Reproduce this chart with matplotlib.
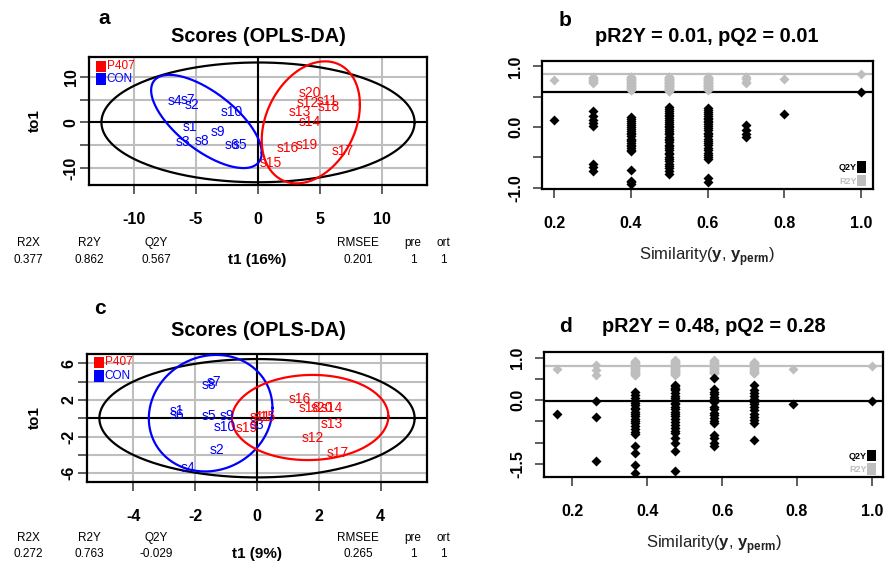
import matplotlib
matplotlib.use("Agg")
import matplotlib.pyplot as plt
import numpy as np
from matplotlib.patches import Rectangle

plt.rcParams["font.family"] = ["Liberation Sans", "DejaVu Sans"]
plt.rcParams["mathtext.fontset"] = "custom"
plt.rcParams["mathtext.rm"] = "Liberation Sans"
plt.rcParams["mathtext.bf"] = "Liberation Sans:bold"
plt.rcParams["axes.unicode_minus"] = False

W, H = 885, 562
GREY = "#BEBEBE"

# ---------------- panel a: OPLS-DA scores (model 1) ----------------
a_con_labels = ["s1", "s2", "s3", "s4", "s5", "s6", "s7", "s8", "s9", "s10"]
a_con_t1 = [-5.5, -5.3, -6.0, -6.7, -1.45, -2.1, -5.6, -4.5, -3.2, -2.1]
a_con_to1 = [-1.1, 3.9, -4.2, 4.65, -4.95, -4.95, 4.9, -4.1, -2.0, 2.3]
a_p407_labels = ["s11", "s12", "s13", "s14", "s15", "s16", "s17", "s18", "s19", "s20"]
a_p407_t1 = [5.6, 4.0, 3.4, 4.2, 1.0, 2.4, 6.8, 5.7, 3.9, 4.2]
a_p407_to1 = [4.65, 4.15, 2.3, 0.1, -8.8, -5.7, -6.3, 3.4, -4.95, 6.5]
# ellipses: centre (t1, to1), half range (t1, to1), correlation
a_ell_center = {"all": (0.0, 0.0), "CON": (-4.15, 0.2), "P407": (4.25, 0.0)}
a_ell_half = {"all": (12.6, 13.1), "CON": (4.45, 10.2), "P407": (3.95, 13.35)}
a_ell_rho = {"all": 0.0, "CON": -0.67, "P407": 0.29}
a_summary = ["0.377", "0.862", "0.567", "0.201", "1", "1"]
a_xlabel = "t1 (16%)"

# ---------------- panel c: OPLS-DA scores (model 2) ----------------
c_con_labels = ["s1", "s2", "s3", "s4", "s5", "s6", "s7", "s8", "s9", "s10"]
c_con_t1 = [-2.58, -1.3, 0.0, -2.22, -1.55, -2.58, -1.4, -1.55, -0.98, -1.04]
c_con_to1 = [0.75, -3.46, -0.75, -5.39, 0.25, 0.3, 4.0, 3.6, 0.25, -0.98]
c_p407_labels = ["s11", "s12", "s13", "s14", "s15", "s16", "s17", "s18", "s19", "s20"]
c_p407_t1 = [0.12, 1.82, 2.42, 2.42, 0.25, 1.37, 2.63, 1.72, -0.33, 2.1]
c_p407_to1 = [0.15, -2.11, -0.65, 1.09, 0.12, 2.07, -3.82, 1.09, -1.05, 1.09]
c_ell_center = {"all": (0.0, 0.0), "CON": (-1.5, 0.55), "P407": (1.72, 0.08)}
c_ell_half = {"all": (5.1, 6.45), "CON": (2.0, 6.35), "P407": (2.53, 4.64)}
c_ell_rho = {"all": 0.0, "CON": 0.09, "P407": 0.03}
c_summary = ["0.272", "0.763", "-0.029", "0.265", "1", "1"]
c_xlabel = "t1 (9%)"

summary_names = ["R2X", "R2Y", "Q2Y", "RMSEE", "pre", "ort"]

# ---------------- panel b: permutation test (model 1) ----------------
b_sim = [0.2, 0.3, 0.4, 0.5, 0.6, 0.7, 0.8]
b_r2y = [
    [0.77],
    [0.82, 0.81, 0.79, 0.78, 0.77, 0.76, 0.74, 0.73],
    [0.83, 0.82, 0.81, 0.8, 0.79, 0.79, 0.78, 0.77, 0.76, 0.75, 0.74, 0.73,
     0.72, 0.71, 0.7, 0.69, 0.68, 0.67, 0.66, 0.65, 0.64, 0.63, 0.62, 0.61],
    [0.83, 0.82, 0.82, 0.81, 0.8, 0.8, 0.79, 0.78, 0.78, 0.77, 0.76, 0.75,
     0.75, 0.74, 0.73, 0.72, 0.72, 0.71, 0.7, 0.69, 0.69, 0.68, 0.67, 0.66,
     0.66, 0.65, 0.64, 0.63, 0.63, 0.62, 0.61, 0.61, 0.6, 0.6],
    [0.83, 0.82, 0.81, 0.81, 0.8, 0.79, 0.78, 0.78, 0.77, 0.76, 0.75, 0.74,
     0.74, 0.73, 0.72, 0.71, 0.7, 0.7, 0.69, 0.68, 0.67, 0.67, 0.66, 0.65,
     0.64, 0.63, 0.63, 0.62],
    [0.83, 0.79, 0.75, 0.72],
    [0.79],
]
b_q2y = [
    [0.11],
    [0.26, 0.19, 0.12, 0.07, 0.02, -0.61, -0.66, -0.73],
    [0.17, 0.13, 0.1, 0.06, 0.03, 0.0, -0.03, -0.07, -0.09, -0.12, -0.15, -0.19,
     -0.21, -0.23, -0.26, -0.29, -0.31, -0.34, -0.37, -0.39, -0.7, -0.88, -0.91, -0.93],
    [0.33, 0.3, 0.27, 0.24, 0.2, 0.18, 0.15, 0.12, 0.08, 0.05, 0.02, 0.0,
     -0.03, -0.07, -0.1, -0.12, -0.16, -0.19, -0.22, -0.25, -0.29, -0.31, -0.35, -0.38,
     -0.42, -0.45, -0.49, -0.52, -0.56, -0.6, -0.64, -0.68, -0.73, -0.77],
    [0.32, 0.28, 0.25, 0.21, 0.18, 0.15, 0.13, 0.1, 0.08, 0.05, 0.02, -0.02,
     -0.05, -0.09, -0.12, -0.15, -0.19, -0.23, -0.26, -0.3, -0.34, -0.38, -0.42, -0.46,
     -0.49, -0.52, -0.84, -0.9],
    [0.03, -0.04, -0.11, -0.16],
    [0.22],
]
b_model = {"R2Y": 0.88, "Q2Y": 0.58}
b_title = "pR2Y = 0.01, pQ2 = 0.01"

# ---------------- panel d: permutation test (model 2) ----------------
d_sim = [0.158, 0.263, 0.368, 0.474, 0.579, 0.684, 0.789]
d_r2y = [
    [0.72],
    [0.82, 0.7, 0.59],
    [0.92, 0.9, 0.88, 0.86, 0.84, 0.83, 0.81, 0.8, 0.78, 0.76, 0.75, 0.73,
     0.72, 0.7, 0.69, 0.67, 0.66, 0.64, 0.63, 0.61, 0.6, 0.59],
    [0.94, 0.92, 0.9, 0.89, 0.87, 0.86, 0.84, 0.83, 0.81, 0.8, 0.78, 0.77,
     0.76, 0.74, 0.73, 0.72, 0.7, 0.69, 0.68, 0.66, 0.65, 0.64, 0.63, 0.62,
     0.61, 0.6],
    [0.94, 0.92, 0.9, 0.88, 0.86, 0.84, 0.82, 0.8, 0.78, 0.76, 0.74, 0.72,
     0.7, 0.69, 0.67, 0.66, 0.64, 0.63],
    [0.9, 0.88, 0.86, 0.84, 0.81, 0.79, 0.77, 0.75, 0.72, 0.7, 0.68, 0.66,
     0.64, 0.63],
    [0.74],
]
d_q2y = [
    [-0.33],
    [-0.02, -0.41, -1.44],
    [0.19, 0.12, 0.05, -0.02, -0.08, -0.12, -0.18, -0.22, -0.28, -0.33, -0.38, -0.45,
     -0.5, -0.55, -0.62, -0.68, -0.74, -0.8, -1.09, -1.25, -1.52, -1.72],
    [0.35, 0.32, 0.29, 0.26, 0.23, 0.16, 0.1, 0.05, 0.0, -0.06, -0.1, -0.16,
     -0.22, -0.27, -0.33, -0.38, -0.45, -0.52, -0.58, -0.65, -0.72, -0.78, -0.9, -1.01,
     -1.21, -1.68],
    [0.51, 0.27, 0.2, 0.14, 0.08, 0.02, -0.04, -0.16, -0.22, -0.3, -0.36, -0.43,
     -0.5, -0.55, -0.82, -0.9, -1.02, -1.09],
    [0.35, 0.23, 0.16, 0.1, 0.03, -0.04, -0.1, -0.16, -0.23, -0.32, -0.41, -0.48,
     -0.55, -0.94],
    [-0.1],
]
d_model = {"R2Y": 0.80, "Q2Y": -0.02}
d_title = "pR2Y = 0.48, pQ2 = 0.28"


def fxy(px, py):
    """Pixel position (from top left) to figure fraction."""
    return px / W, 1 - py / H


def add_axes_px(fig, left, top, right, bottom):
    return fig.add_axes([left / W, 1 - bottom / H, (right - left) / W, (bottom - top) / H])


def ellipse_xy(center, half, rho):
    t = np.linspace(0, 2 * np.pi, 300)
    phi = np.arccos(rho)
    return center[0] + half[0] * np.cos(t), center[1] + half[1] * np.cos(t - phi)


def style_ticks(ax, ylabels_pad):
    ax.tick_params(direction="out", length=6.5, width=1.1, color="#333333",
                   labelsize=11.5, pad=13)
    ax.tick_params(axis="y", pad=ylabels_pad)
    for lbl in ax.get_xticklabels():
        lbl.set_fontweight("bold")
    for lbl in ax.get_yticklabels():
        lbl.set_fontweight("bold")
        lbl.set_rotation(90)
        lbl.set_va("center")
    for sp in ax.spines.values():
        sp.set_linewidth(1.6)


def draw_scores(ax, con, p407, ell, xlim, ylim, xticks, yticks, ylabels):
    ax.set_xlim(*xlim)
    ax.set_ylim(*ylim)
    ax.set_xticks(xticks)
    ax.set_yticks(yticks)
    ax.set_yticklabels(ylabels)
    ax.grid(True, color=GREY, lw=1.5)
    ax.set_axisbelow(True)
    ax.axhline(0, color="black", lw=1.5, zorder=2)
    ax.axvline(0, color="black", lw=1.5, zorder=2)

    centers, halves, rhos = ell
    for key, color in [("all", "black"), ("CON", "blue"), ("P407", "red")]:
        x, y = ellipse_xy(centers[key], halves[key], rhos[key])
        ax.plot(x, y, color=color, lw=1.6, zorder=3)

    for (labels, t1, to1), color in [(con, "blue"), (p407, "red")]:
        for lab, x, y in zip(labels, t1, to1):
            ax.text(x, y, lab, color=color, fontsize=10, ha="center", va="center", zorder=4)

    style_ticks(ax, 1)


def score_legend(ax, y_red, y_blue):
    for y0, color, name in [(y_red, "red", "P407"), (y_blue, "blue", "CON")]:
        ax.add_patch(Rectangle((0.021, y0), 0.03, 0.092, transform=ax.transAxes,
                               color=color, lw=0, zorder=5))
        ax.text(0.052, y0 + 0.046, name, transform=ax.transAxes, color=color,
                fontsize=8.5, ha="left", va="center", zorder=5)


def draw_perm(ax, sims, r2y, q2y, model, xlim, ylim, yticks, ylabels):
    ax.axhline(model["R2Y"], color=GREY, lw=1.6, zorder=1)
    ax.axhline(model["Q2Y"], color="black", lw=1.6, zorder=1)
    for s, vals in zip(sims, r2y):
        ax.plot([s] * len(vals), vals, "D", color=GREY, ms=5, mec="none", zorder=2)
    for s, vals in zip(sims, q2y):
        ax.plot([s] * len(vals), vals, "D", color="black", ms=5, mec="none", zorder=3)
    ax.plot([1.0], [model["R2Y"]], "D", color=GREY, ms=5, mec="none", zorder=2)
    ax.plot([1.0], [model["Q2Y"]], "D", color="black", ms=5, mec="none", zorder=3)
    ax.set_xlim(*xlim)
    ax.set_ylim(*ylim)
    ax.set_xticks([0.2, 0.4, 0.6, 0.8, 1.0])
    ax.set_xticklabels(["0.2", "0.4", "0.6", "0.8", "1.0"])
    ax.set_yticks(yticks)
    ax.set_yticklabels(ylabels)
    style_ticks(ax, 7)
    # Q2Y / R2Y key
    for y0, color, name in [(0.125, "black", "Q2Y"), (0.02, GREY, "R2Y")]:
        ax.add_patch(Rectangle((0.953, y0), 0.027, 0.09, transform=ax.transAxes,
                               color=color, lw=0, zorder=5))
        ax.text(0.952, y0 + 0.04, name, transform=ax.transAxes, color=color,
                fontsize=6.5, fontweight="bold", ha="right", va="center", zorder=5)


fig = plt.figure(figsize=(W / 100, H / 100), dpi=100)

ax_a = add_axes_px(fig, 89, 57, 427, 185)
draw_scores(ax_a, (a_con_labels, a_con_t1, a_con_to1), (a_p407_labels, a_p407_t1, a_p407_to1),
            (a_ell_center, a_ell_half, a_ell_rho), (-13.6, 13.6), (-13.7, 14.3),
            [-10, -5, 0, 5, 10], [-10, -5, 0, 5, 10], ["-10", "", "0", "", "10"])
score_legend(ax_a, 0.88, 0.78)

ax_c = add_axes_px(fig, 87, 354, 427, 482)
draw_scores(ax_c, (c_con_labels, c_con_t1, c_con_to1), (c_p407_labels, c_p407_t1, c_p407_to1),
            (c_ell_center, c_ell_half, c_ell_rho), (-5.5, 5.5), (-6.95, 7.0),
            [-4, -2, 0, 2, 4], [-6, -4, -2, 0, 2, 4, 6], ["-6", "", "-2", "", "2", "", "6"])
score_legend(ax_c, 0.888, 0.783)

ax_b = add_axes_px(fig, 542, 61, 873, 189)
draw_perm(ax_b, b_sim, b_r2y, b_q2y, b_model, (0.168, 1.032), (-1.02, 1.09),
          [-1.0, -0.5, 0.0, 0.5, 1.0], ["-1.0", "", "0.0", "", "1.0"])

ax_d = add_axes_px(fig, 544, 352, 883, 477)
draw_perm(ax_d, d_sim, d_r2y, d_q2y, d_model, (0.124, 1.03), (-1.81, 1.13),
          [-1.5, -1.0, -0.5, 0.0, 0.5, 1.0], ["-1.5", "", "", "0.0", "", "1.0"])

# titles, panel letters, axis labels
for (px, py), text in [((258, 37), "Scores (OPLS-DA)"), ((707, 37), b_title),
                       ((258, 330), "Scores (OPLS-DA)"), ((714, 327), d_title)]:
    fig.text(*fxy(px, py), text, fontsize=14.3, fontweight="bold", ha="center", va="center")
for (px, py), letter in [((104, 18), "a"), ((565, 20), "b"), ((100, 309), "c"), ((566, 326), "d")]:
    fig.text(*fxy(px, py), letter, fontsize=15, fontweight="bold", ha="center", va="center")
for py in (121, 418):
    fig.text(*fxy(35, py), "to1", fontsize=11, fontweight="bold", rotation=90,
             ha="center", va="center")
sim_label = r"Similarity($\mathbf{y}$, $\mathbf{y}_{\mathbf{perm}}$)"
for px, py in [(707, 257), (714, 545)]:
    fig.text(*fxy(px, py), sim_label, fontsize=12, color="#222222", ha="center", va="center")

# model summary rows under the score plots
summary_x = [28, 89, 156, 358, 413, 443]
for (head_y, val_y), values, xlabel in [((243, 260), a_summary, a_xlabel),
                                        ((538, 554), c_summary, c_xlabel)]:
    for px, name, val in zip(summary_x, summary_names, values):
        fig.text(*fxy(px, head_y), name, fontsize=8.5, ha="center", va="center")
        fig.text(*fxy(px, val_y), val, fontsize=8.5, ha="center", va="center")
    fig.text(*fxy(257, val_y), xlabel, fontsize=11, fontweight="bold", ha="center", va="center")

fig.savefig("out.png", dpi=100)
